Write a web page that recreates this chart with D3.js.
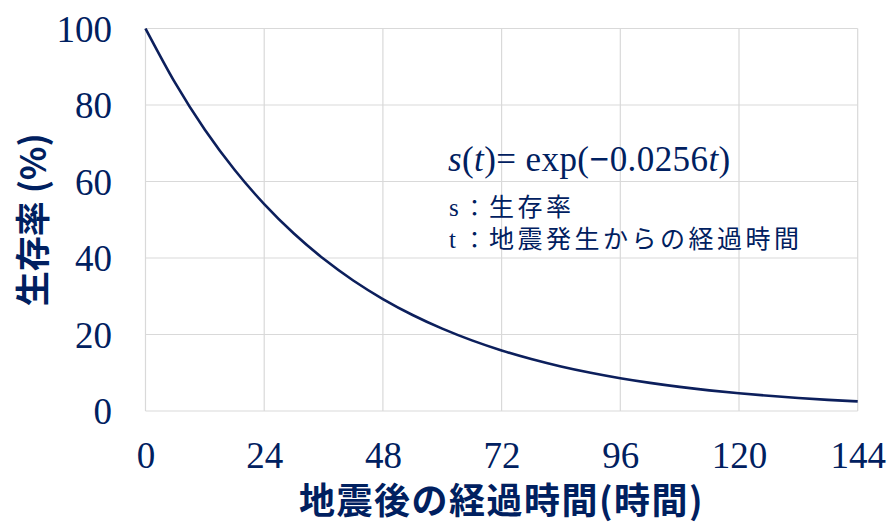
<!DOCTYPE html>
<html lang="ja">
<head>
<meta charset="utf-8">
<script src="https://cdn.jsdelivr.net/npm/d3@7/dist/d3.min.js"></script>
<style>
  html, body { margin: 0; padding: 0; background: #fff; }
  svg { display: block; }
</style>
</head>
<body>
<svg id="chart" width="889" height="523"></svg>
<script>
// Hours after the earthquake and survival rate (%) at each hour
const hours = [0, 6, 12, 18, 24, 30, 36, 42, 48, 54, 60, 66, 72, 78, 84, 90, 96, 102, 108, 114, 120, 126, 132, 138, 144];
const survival = [100, 85.76, 73.55, 63.08, 54.10, 46.40, 39.79, 34.12, 29.27, 25.10, 21.53, 18.46, 15.83, 13.58, 11.64, 9.99, 8.56, 7.35, 6.30, 5.40, 4.63, 3.97, 3.41, 2.92, 2.51];

const xTicks = [0, 24, 48, 72, 96, 120, 144];
const yTicks = [0, 20, 40, 60, 80, 100];

const xTitle = "地震後の経過時間(時間)";
const yTitle = "生存率 (%)";

const navy = "#002060";
const lineColor = "#0c1f5c";
const gridColor = "#d9d9d9";
const serif = "'Liberation Serif', 'Times New Roman', serif";
const cjk = "'Noto Sans CJK JP', 'Noto Sans', sans-serif";

const svg = d3.select("#chart");
const margin = { left: 145.5, right: 889 - 857.7, top: 28.5, bottom: 523 - 411 };
const W = 889, H = 523;

const x = d3.scaleLinear().domain([0, 144]).range([margin.left, W - margin.right]);
const y = d3.scaleLinear().domain([0, 100]).range([H - margin.bottom, margin.top]);

// Gridlines
const grid = svg.append("g");
grid.selectAll("line.h").data(yTicks).join("line")
  .attr("x1", x(0)).attr("x2", x(144))
  .attr("y1", d => y(d)).attr("y2", d => y(d))
  .attr("stroke", gridColor).attr("stroke-width", 1.2);
grid.selectAll("line.v").data(xTicks).join("line")
  .attr("y1", y(0)).attr("y2", y(100))
  .attr("x1", d => x(d)).attr("x2", d => x(d))
  .attr("stroke", gridColor).attr("stroke-width", 1.2);

// Y axis tick labels
const yAxis = svg.append("g")
  .attr("transform", `translate(${x(0)},0)`)
  .call(d3.axisLeft(y).tickValues(yTicks).tickSize(0).tickPadding(33.5));
yAxis.select(".domain").remove();
yAxis.selectAll("text")
  .attr("fill", navy).attr("font-family", serif).attr("font-size", 37)
  .attr("dy", null).attr("dominant-baseline", "central");

// X axis tick labels
const xAxis = svg.append("g")
  .attr("transform", `translate(0,${y(0)})`)
  .call(d3.axisBottom(x).tickValues(xTicks).tickSize(0).tickPadding(0));
xAxis.select(".domain").remove();
xAxis.selectAll("text")
  .attr("fill", navy).attr("font-family", serif).attr("font-size", 37)
  .attr("dy", null).attr("y", 57).attr("dominant-baseline", "alphabetic");

// Survival curve
const line = d3.line()
  .x((d, i) => x(hours[i]))
  .y(d => y(d))
  .curve(d3.curveNatural);
svg.append("path")
  .datum(survival)
  .attr("d", line)
  .attr("fill", "none")
  .attr("stroke", lineColor)
  .attr("stroke-width", 2.6);

// Axis titles
svg.append("text")
  .attr("x", (x(0) + x(144)) / 2).attr("y", 514)
  .attr("text-anchor", "middle")
  .attr("font-family", cjk).attr("font-weight", "bold")
  .attr("font-size", 36).attr("letter-spacing", 1.5)
  .attr("fill", navy)
  .text(xTitle);

svg.append("text")
  .attr("transform", `translate(30,${(y(0) + y(100)) / 2}) rotate(-90)`)
  .attr("text-anchor", "middle")
  .attr("dominant-baseline", "central")
  .attr("font-family", cjk).attr("font-weight", "bold")
  .attr("font-size", 35)
  .attr("fill", navy)
  .text(yTitle);

// Model formula
const formula = svg.append("text")
  .attr("x", 448).attr("y", 171)
  .attr("font-family", serif).attr("font-size", 35)
  .attr("letter-spacing", 0.4)
  .attr("fill", navy);
formula.append("tspan").attr("font-style", "italic").text("s");
formula.append("tspan").text("(");
formula.append("tspan").attr("font-style", "italic").text("t");
formula.append("tspan").text(")= exp(");
formula.append("tspan").attr("font-weight", "bold").text("−");
formula.append("tspan").text("0.0256");
formula.append("tspan").attr("font-style", "italic").text("t");
formula.append("tspan").text(")");

// Variable legend
const legend = [
  { sym: "s", desc: "生存率", y: 216 },
  { sym: "t", desc: "地震発生からの経過時間", y: 248 }
];
legend.forEach(d => {
  const t = svg.append("text").attr("y", d.y).attr("fill", navy);
  t.append("tspan").attr("x", 449).attr("font-family", serif).attr("font-size", 25).text(d.sym);
  t.append("tspan").attr("x", 463).attr("font-family", cjk).attr("font-size", 23).text("：");
  t.append("tspan").attr("x", 489).attr("font-family", cjk).attr("font-size", 25)
    .attr("letter-spacing", 3.5).text(d.desc);
});
</script>
</body>
</html>
